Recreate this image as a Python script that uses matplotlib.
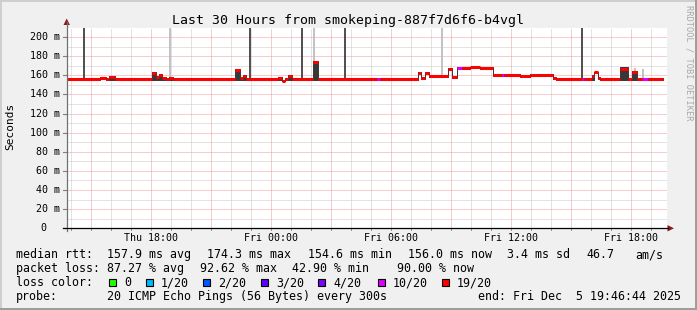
import numpy as np
import pandas as pd
import matplotlib
matplotlib.use("Agg")
import matplotlib.pyplot as plt
from matplotlib.patches import Rectangle, Polygon
from matplotlib.transforms import offset_copy

W, H = 697, 310

# graph window
end_time = pd.Timestamp("2025-12-05 19:46:44")
span_hours = 30
start_time = end_time - pd.Timedelta(hours=span_hours)
title = "Last 30 Hours from smokeping-887f7d6f6-b4vgl"

# median rtt as steps: start of each step in hours after start_time, values in ms
seg_start = [0.00, 1.67, 1.97, 2.12, 2.42, 4.27, 4.47, 4.62, 4.77, 4.97, 5.12, 5.32,
             8.42, 8.67, 8.82, 8.97, 10.57, 10.77, 10.92, 11.07, 11.27, 12.32, 12.57,
             15.52, 15.67, 17.57, 17.72, 17.92, 18.12, 19.07, 19.27, 19.52, 19.77,
             20.17, 20.67, 21.32, 21.77, 21.87, 22.67, 23.17, 23.67, 24.32, 24.47,
             25.77, 25.87, 26.27, 26.37, 26.57, 26.67, 27.67, 28.07, 28.27, 28.52,
             28.77, 29.07]
seg_last = 29.82
seg_median = [155.8, 156.8, 155.6, 158.0, 155.8, 162.0, 158.5, 160.0, 157.5, 155.8, 157.0, 155.8,
              165.5, 157.0, 159.5, 155.8, 157.0, 154.3, 156.0, 159.5, 155.8, 173.5, 155.8,
              155.8, 155.8, 162.5, 157.5, 162.5, 158.8, 166.5, 158.5, 167.8, 167.8,
              168.3, 167.8, 160.0, 160.0, 160.0, 159.5, 160.0, 160.5, 157.5, 155.8,
              155.8, 155.8, 159.5, 163.0, 157.5, 155.8, 166.5, 155.8, 163.5, 155.8,
              155.8, 155.8]
# smoke (ping spread) around the median
seg_low = [154.8, 155.8, 154.6, 155.5, 154.8, 155.5, 155.5, 155.5, 155.5, 154.8, 155.5, 154.8,
           155.5, 155.5, 155.5, 154.8, 155.5, 153.5, 155.0, 155.5, 154.8, 155.5, 154.8,
           154.8, 154.8, 161.5, 156.5, 161.5, 157.8, 165.5, 157.5, 166.8, 166.8,
           167.3, 166.8, 159.0, 159.0, 159.0, 158.5, 159.0, 159.5, 156.5, 154.8,
           154.8, 154.8, 155.5, 162.0, 156.5, 154.8, 155.5, 154.8, 155.5, 154.8,
           154.8, 154.8]
seg_high = [156.8, 157.8, 156.6, 158.8, 156.8, 163.0, 159.5, 160.8, 158.3, 156.8, 157.8, 156.8,
            166.5, 157.8, 160.5, 156.8, 157.8, 155.5, 157.0, 160.5, 156.8, 174.5, 156.8,
            156.8, 156.8, 163.3, 158.3, 163.3, 159.6, 167.3, 159.3, 168.6, 168.6,
            169.1, 168.6, 160.8, 160.8, 160.8, 160.3, 160.8, 161.3, 158.3, 156.8,
            156.8, 156.8, 160.3, 163.8, 158.3, 156.8, 168.5, 156.8, 164.5, 156.8,
            156.8, 156.8]
# lost pings out of 20 for each step
seg_loss = [19] * 23 + [10, 19] + [19] * 6 + [10, 19, 19, 19, 19, 10] + [19] * 6 + [10] + [19] * 9 + [10, 19]

# single slow pings shooting up from the median
spike_t = [0.84, 5.15, 9.14, 11.75, 12.35, 13.9, 18.75, 25.75, 28.42, 28.82]
spike_top = [215, 215, 215, 215, 215, 215, 215, 215, 167.5, 166.5]
spike_light = [False, True, False, False, True, False, True, False, True, True]

loss_levels = [0, 1, 2, 3, 4, 10, 19]
loss_labels = ["0", "1/20", "2/20", "3/20", "4/20", "10/20", "19/20"]
loss_colors = ["#26ff00", "#00b8ff", "#0059ff", "#5e00ff", "#7e00ff", "#dd00ff", "#ff0000"]

rtt_stats = [157.9, 174.3, 154.6, 156.0]   # avg, max, min, now (ms)
rtt_sd = 3.4
rtt_ams = 46.7
loss_stats = [87.27, 92.62, 42.90, 90.00]  # avg, max, min, now (%)
probe_text = "20 ICMP Echo Pings (56 Bytes) every 300s"

yticks = list(range(0, 201, 20))
ymax = 209.4

plt.rcParams['font.family'] = 'DejaVu Sans Mono'
plt.rcParams['lines.scale_dashes'] = False
fig = plt.figure(figsize=(W / 100, H / 100), dpi=100)
fig.patch.set_facecolor('#f0f0f0')

ax_l, ax_r, ax_t, ax_b = 66.7, 666.7, 28.0, 228.3
ax = fig.add_axes([ax_l / W, 1 - ax_b / H, (ax_r - ax_l) / W, (ax_b - ax_t) / H])
ax.set_facecolor('white')
ax.set_xlim(0, span_hours)
ax.set_ylim(0, ymax)
for s in ax.spines.values():
    s.set_visible(False)
ax.set_xticks([])
ax.set_yticks([])

minor_c = '#c8c8c8'
major_c = '#f29a9a'
dots = (0, (0.72, 0.72))   # 1px on, 1px off

# grid
hours = pd.date_range(start_time.ceil('h'), end_time, freq='h')
hour_x = [(t - start_time) / pd.Timedelta(hours=1) for t in hours]
for t, x in zip(hours, hour_x):
    major = t.hour % 3 == 0
    ax.axvline(x, color=major_c if major else minor_c, lw=0.72, ls=dots,
               snap=True, zorder=1 + major)
for v in range(10, 210, 10):
    major = v % 20 == 0
    ax.axhline(v, color=major_c if major else minor_c, lw=0.72, ls=dots,
               snap=True, zorder=1 + major)

# smoke
t_edges = np.array(seg_start + [seg_last])
ax.fill_between(t_edges, seg_low + [seg_low[-1]], seg_high + [seg_high[-1]], step='post',
                facecolor='#383838', edgecolor='#383838', lw=0.7, zorder=4)

idx = np.searchsorted(seg_start, spike_t, side='right') - 1
spike_base = np.array(seg_median)[idx] - 1.5
ax.vlines(spike_t, spike_base, spike_top,
          colors=['#bdbdbd' if l else '#404040' for l in spike_light], lw=1.3, zorder=3)

# median coloured by loss
color_of = dict(zip(loss_levels, loss_colors))
med = ax.hlines(seg_median, seg_start, seg_start[1:] + [seg_last],
                colors=[color_of[l] for l in seg_loss], lw=2.2, zorder=5)
med.set_capstyle('butt')

# y ticks and labels
ytr = ax.get_yaxis_transform()
for v in yticks:
    ax.plot([-4 / 600, 0], [v, v], transform=ytr, color='#808080', lw=0.8, clip_on=False)
    lbl = f"{v} m" if v else "0"
    xoff = -7.0 if v else -20.5
    ax.text(0, v, lbl, transform=offset_copy(ytr, fig, x=xoff, y=0, units='dots'),
            ha='right', va='center', fontsize=7.2)

# x tick labels
xtr = ax.get_xaxis_transform()
for t, x in zip(hours, hour_x):
    ax.plot([x, x], [0, -2 / 200], transform=xtr, color='#909090', lw=0.7, clip_on=False)
    if t.hour % 6 == 0:
        ax.text(x, 0, t.strftime('%a %H:%M'),
                transform=offset_copy(xtr, fig, x=0, y=-12.7, units='dots'),
                ha='center', va='baseline', fontsize=7.2)

# overlay in pixel coordinates for frame, axes arrows and legend
ov = fig.add_axes([0, 0, 1, 1], zorder=5)
ov.set_xlim(0, W)
ov.set_ylim(H, 0)
ov.axis('off')

ov.add_patch(Rectangle((0, 0), W, 2, color='#cfcfcf', lw=0))
ov.add_patch(Rectangle((0, 0), 2, H, color='#cfcfcf', lw=0))
ov.add_patch(Rectangle((W - 2, 0), 2, H, color='#9e9e9e', lw=0))
ov.add_patch(Rectangle((0, H - 2), W, 2, color='#9e9e9e', lw=0))

ov.plot([ax_l, ax_l], [231, 22], color='#707070', lw=0.9)
ov.plot([63, 668], [ax_b, ax_b], color='black', lw=0.9)
ov.add_patch(Polygon([(ax_l - 3.2, 25), (ax_l + 3.2, 25), (ax_l, 18.5)], color='#8b1a1a', lw=0))
ov.add_patch(Polygon([(667.5, ax_b - 3.2), (667.5, ax_b + 3.2), (674, ax_b)], color='#8b1a1a', lw=0))

ov.text(347.5, 24, title, ha='center', va='baseline', fontsize=9.5)
ov.text(10, 126.5, "Seconds", rotation=90, ha='center', va='center', fontsize=8)
ov.text(688.5, 5, "RRDTOOL / TOBI OETIKER", rotation=270, ha='center', va='top',
        fontsize=6.2, color='#a8a8a8')

fs = 8.4
row1 = ["median rtt:", f"{rtt_stats[0]:.1f} ms avg", f"{rtt_stats[1]:.1f} ms max",
        f"{rtt_stats[2]:.1f} ms min", f"{rtt_stats[3]:.1f} ms now", f"{rtt_sd:.1f} ms sd",
        f"{rtt_ams:.1f}", "am/s"]
for s, x in zip(row1, [16, 107, 207, 308, 408, 507, 586, 635]):
    ov.text(x, 258, s, va='baseline', fontsize=fs)

row2 = ["packet loss:", f"{loss_stats[0]:.2f} % avg", f"{loss_stats[1]:.2f} % max",
        f"{loss_stats[2]:.2f} % min", f"{loss_stats[3]:.2f} % now"]
for s, x in zip(row2, [16, 107, 200, 292, 397]):
    ov.text(x, 272, s, va='baseline', fontsize=fs)

ov.text(16, 286, "loss color:", va='baseline', fontsize=fs)
for lbl, c, bx in zip(loss_labels, loss_colors, [109, 146, 203, 261, 318, 378, 442]):
    ov.add_patch(Rectangle((bx, 279.3), 7, 7, facecolor=c, edgecolor='black', lw=0.8))
    ov.text(bx + 15, 286, lbl, va='baseline', fontsize=fs)

end_str = f"end: {end_time:%a %b} {end_time.day:2d} {end_time:%H:%M:%S %Y}"
ov.text(16, 300, "probe:", va='baseline', fontsize=fs)
ov.text(107, 300, probe_text, va='baseline', fontsize=fs)
ov.text(478, 300, end_str, va='baseline', fontsize=fs)

fig.savefig("out.png", dpi=100)
